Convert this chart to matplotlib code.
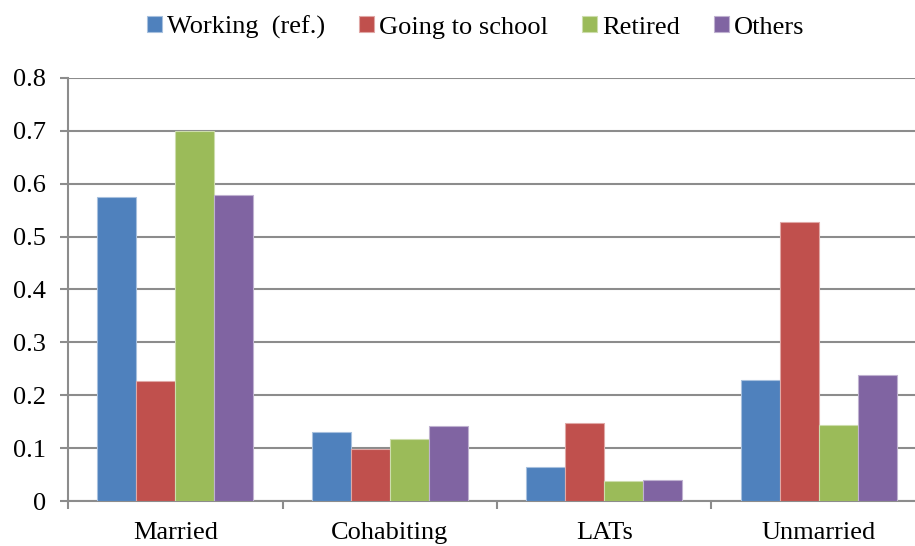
import numpy as np
import matplotlib.pyplot as plt

# data
categories = ['Married', 'Cohabiting', 'LATs', 'Unmarried']
series_names = ['Working  (ref.)', 'Going to school', 'Retired', 'Others']
working = [0.575, 0.130, 0.065, 0.229]
school = [0.227, 0.099, 0.147, 0.528]
retired = [0.700, 0.118, 0.038, 0.143]
others = [0.578, 0.142, 0.040, 0.239]
y_ticks = [0, 0.1, 0.2, 0.3, 0.4, 0.5, 0.6, 0.7, 0.8]
y_labels = ['0', '0.1', '0.2', '0.3', '0.4', '0.5', '0.6', '0.7', '0.8']

colors = ['#4F81BD', '#C0504D', '#9BBB59', '#8064A2']
edges = ['#A7C0DE', '#E0A8A6', '#CDDDAC', '#BFB1D0']

plt.rcParams['font.family'] = ['Liberation Serif', 'DejaVu Serif']
plt.rcParams['font.size'] = 19

fig = plt.figure(figsize=(9.15, 5.46), dpi=100)
ax = fig.add_axes([68 / 915, 45 / 546, 858 / 915, 423 / 546])

x = np.arange(len(categories))
width = 0.182
values = [working, school, retired, others]
for i, vals in enumerate(values):
    ax.bar(x + (i - 1.5) * width, vals, width, color=colors[i],
           edgecolor=edges[i], linewidth=0.8, label=series_names[i], zorder=3)

ax.set_xlim(-0.5, len(categories) - 0.5)
ax.set_ylim(0, 0.8)
ax.set_yticks(y_ticks)
ax.set_yticklabels(y_labels)
ax.yaxis.grid(True, color='#8C8C8C', linewidth=1.5, zorder=0)

# category boundaries as major ticks, labels at centres
ax.set_xticks(np.arange(-0.5, len(categories), 1.0))
ax.set_xticklabels([])
ax.set_xticks(x, minor=True)
ax.set_xticklabels(categories, minor=True)
ax.tick_params(axis='x', which='major', length=6, width=1.5, color='#8C8C8C')
ax.tick_params(axis='x', which='minor', length=0, pad=15)
ax.tick_params(axis='y', length=6, width=1.5, color='#8C8C8C', pad=10)

for side in ['top', 'right']:
    ax.spines[side].set_visible(False)
for side in ['left', 'bottom']:
    ax.spines[side].set_color('#8C8C8C')
    ax.spines[side].set_linewidth(1.5)

fig.legend(loc='upper center', bbox_to_anchor=(0.52, 1.015), ncol=4, frameon=False,
           handlelength=0.55, handleheight=0.55, handletextpad=0.2, columnspacing=1.3)

plt.savefig('out.png', dpi=100)
